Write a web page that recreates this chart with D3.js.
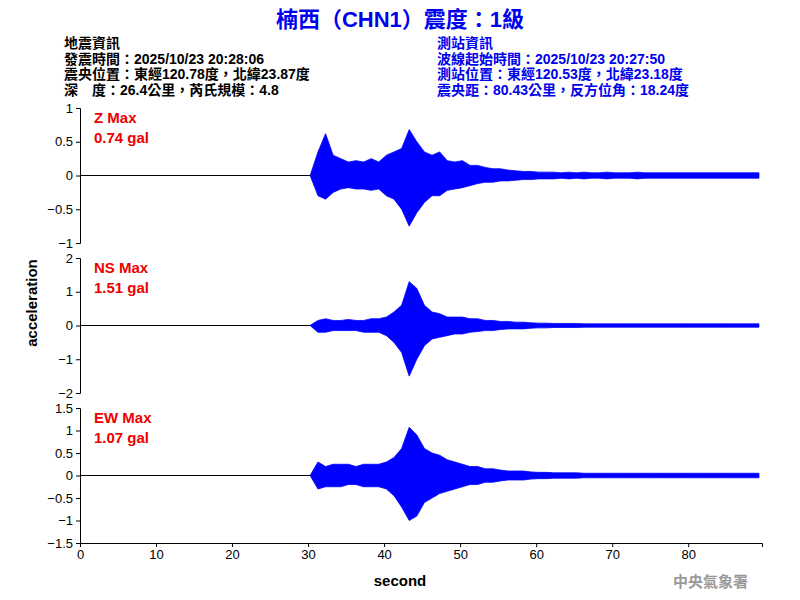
<!DOCTYPE html><html><head><meta charset="utf-8"><script src="https://cdn.jsdelivr.net/npm/d3@7"></script>
<style>body{margin:0;background:#fff}text{font-family:Arial,"Liberation Sans","Noto Sans CJK TC",sans-serif}</style></head><body>
<svg id="c" width="800" height="600"></svg>
<script>
const secs = d3.range(30.3, 90.3, 1);
const zUp = [0.01,0.35,0.62,0.3,0.25,0.2,0.22,0.2,0.25,0.2,0.3,0.35,0.4,0.68,0.5,0.35,0.3,0.35,0.22,0.2,0.22,0.15,0.15,0.12,0.1,0.1,0.08,0.07,0.06,0.06,0.05,0.05,0.05,0.04,0.05,0.04,0.05,0.04,0.04,0.05,0.04,0.04,0.04,0.05,0.04,0.04,0.04,0.04,0.04,0.04,0.04,0.04,0.04,0.04,0.04,0.04,0.04,0.04,0.04,0.04];
const zLo = [-0.01,-0.3,-0.35,-0.25,-0.2,-0.18,-0.2,-0.2,-0.22,-0.2,-0.3,-0.35,-0.5,-0.75,-0.55,-0.4,-0.3,-0.3,-0.22,-0.2,-0.18,-0.15,-0.12,-0.1,-0.1,-0.08,-0.08,-0.07,-0.06,-0.06,-0.05,-0.05,-0.05,-0.04,-0.05,-0.04,-0.05,-0.04,-0.04,-0.05,-0.04,-0.04,-0.04,-0.05,-0.04,-0.04,-0.04,-0.04,-0.04,-0.04,-0.04,-0.04,-0.04,-0.04,-0.04,-0.04,-0.04,-0.04,-0.04,-0.04];
const nsUp = [0.01,0.15,0.2,0.15,0.15,0.18,0.15,0.15,0.2,0.2,0.25,0.4,0.6,1.3,1.1,0.6,0.4,0.35,0.25,0.25,0.25,0.2,0.2,0.15,0.15,0.12,0.12,0.1,0.1,0.08,0.07,0.07,0.06,0.06,0.06,0.06,0.05,0.05,0.05,0.05,0.05,0.05,0.05,0.05,0.05,0.05,0.05,0.05,0.05,0.05,0.05,0.05,0.05,0.05,0.05,0.05,0.05,0.05,0.05,0.05];
const nsLo = [-0.01,-0.2,-0.2,-0.15,-0.15,-0.15,-0.15,-0.2,-0.2,-0.2,-0.3,-0.5,-0.8,-1.5,-1.0,-0.6,-0.4,-0.35,-0.3,-0.25,-0.25,-0.2,-0.18,-0.15,-0.15,-0.12,-0.1,-0.1,-0.1,-0.08,-0.07,-0.07,-0.06,-0.06,-0.06,-0.06,-0.05,-0.05,-0.05,-0.05,-0.05,-0.05,-0.05,-0.05,-0.05,-0.05,-0.05,-0.05,-0.05,-0.05,-0.05,-0.05,-0.05,-0.05,-0.05,-0.05,-0.05,-0.05,-0.05,-0.05];
const ewUp = [0.01,0.3,0.2,0.25,0.25,0.25,0.2,0.25,0.25,0.25,0.3,0.4,0.6,1.07,0.9,0.6,0.5,0.45,0.35,0.3,0.25,0.2,0.2,0.15,0.15,0.12,0.1,0.1,0.1,0.08,0.07,0.07,0.06,0.06,0.06,0.06,0.05,0.05,0.05,0.05,0.05,0.05,0.05,0.05,0.05,0.05,0.05,0.05,0.05,0.05,0.05,0.05,0.05,0.05,0.05,0.05,0.05,0.05,0.05,0.05];
const ewLo = [-0.01,-0.3,-0.25,-0.25,-0.25,-0.2,-0.2,-0.25,-0.25,-0.25,-0.3,-0.45,-0.7,-1.0,-0.9,-0.6,-0.5,-0.4,-0.35,-0.3,-0.25,-0.2,-0.2,-0.15,-0.15,-0.12,-0.1,-0.1,-0.1,-0.08,-0.07,-0.07,-0.06,-0.06,-0.06,-0.06,-0.05,-0.05,-0.05,-0.05,-0.05,-0.05,-0.05,-0.05,-0.05,-0.05,-0.05,-0.05,-0.05,-0.05,-0.05,-0.05,-0.05,-0.05,-0.05,-0.05,-0.05,-0.05,-0.05,-0.05];
const panels = [
 {label:"Z Max", max:"0.74 gal", dom:[-1,1], ticks:[-1,-0.5,0,0.5,1], up:zUp, lo:zLo},
 {label:"NS Max", max:"1.51 gal", dom:[-2,2], ticks:[-2,-1,0,1,2], up:nsUp, lo:nsLo},
 {label:"EW Max", max:"1.07 gal", dom:[-1.5,1.5], ticks:[-1.5,-1,-0.5,0,0.5,1,1.5], up:ewUp, lo:ewLo}
];
const svg = d3.select("#c");
const x = d3.scaleLinear().domain([0,89.7]).range([80,762]);
svg.append("text").attr("x",400).attr("y",27).attr("text-anchor","middle").attr("fill","#0000ee").attr("font-size",22).attr("font-weight","bold").text("楠西（CHN1）震度：1級");
const left=["地震資訊","發震時間：2025/10/23 20:28:06","震央位置：東經120.78度，北緯23.87度","深　度：26.4公里，芮氏規模：4.8"];
const right=["測站資訊","波線起始時間：2025/10/23 20:27:50","測站位置：東經120.53度，北緯23.18度","震央距：80.43公里，反方位角：18.24度"];
left.forEach((t,i)=>svg.append("text").attr("x",64).attr("y",48+i*15.5).attr("font-size",14).attr("font-weight","bold").text(t));
right.forEach((t,i)=>svg.append("text").attr("x",437).attr("y",48+i*15.5).attr("font-size",14).attr("font-weight","bold").attr("fill","#0000ee").text(t));
panels.forEach((p,i)=>{
  const top=108+i*150, bot=243+i*150;
  const y=d3.scaleLinear().domain(p.dom).range([bot,top]);
  const g=svg.append("g");
  g.append("g").attr("transform","translate(80,0)").call(d3.axisLeft(y).tickValues(p.ticks).tickSize(4).tickFormat(d3.format("")))
   .call(a=>a.selectAll("text").attr("font-size",13).attr("fill","#000")).call(a=>a.select(".domain").attr("stroke","#000"));
  g.append("line").attr("x1",x(0)).attr("x2",x(31)).attr("y1",y(0)).attr("y2",y(0)).attr("stroke","#000").attr("stroke-width",1);
  const area=d3.area().x((d,k)=>x(secs[k])).y0((d,k)=>y(p.lo[k])).y1((d,k)=>y(p.up[k])).curve(d3.curveLinear);
  g.append("path").datum(secs).attr("d",area).attr("fill","#0000ff").attr("stroke","#0000ff").attr("stroke-width",0.8);
  g.append("text").attr("x",94).attr("y",top+15).attr("fill","#ee0000").attr("font-size",15).attr("font-weight","bold").text(p.label);
  g.append("text").attr("x",94).attr("y",top+35).attr("fill","#ee0000").attr("font-size",15).attr("font-weight","bold").text(p.max);
});
svg.append("g").attr("transform","translate(0,543)").call(d3.axisBottom(x).tickValues(d3.range(0,90,10)).tickSize(4))
 .call(a=>a.selectAll("text").attr("font-size",13)).call(a=>a.select(".domain").attr("stroke","#000"));
svg.append("text").attr("x",400).attr("y",586).attr("text-anchor","middle").attr("font-size",15).attr("font-weight","bold").text("second");
svg.append("text").attr("transform","translate(37,303) rotate(-90)").attr("text-anchor","middle").attr("font-size",15).attr("font-weight","bold").text("acceleration");
svg.append("text").attr("x",748).attr("y",587).attr("text-anchor","end").attr("font-size",15).attr("font-weight","bold").attr("fill","#999").text("中央氣象署");
</script></body></html>
